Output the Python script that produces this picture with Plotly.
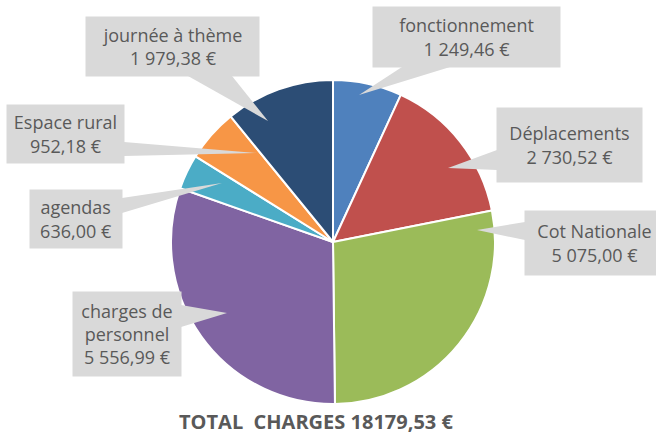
import plotly.graph_objects as go

categories = ["fonctionnement", "Déplacements", "Cot Nationale", "charges de personnel",
              "agendas", "Espace rural", "journée à thème"]
label_text = ["fonctionnement", "Déplacements", "Cot Nationale", "charges de<br>personnel",
              "agendas", "Espace rural", "journée à thème"]
values = [1249.46, 2730.52, 5075.00, 5556.99, 636.00, 952.18, 1979.38]
colors = ["#4F81BD", "#C0504D", "#9BBB59", "#8064A2", "#4BACC6", "#F79646", "#2C4D75"]

W, H = 656, 436


def fmt_eur(v):
    s = f"{v:,.2f}"
    s = s.replace(",", " ").replace(".", ",")
    return s + " €"


def px(x):
    return x / W


def py(y):
    return 1 - y / H


# callout layout (pixel boxes: x0, y0, x1, y1), wedge base and tip in pixels
boxes = [
    (373, 7, 560, 67),
    (497, 108, 642, 182),
    (525, 211, 664, 275),
    (73, 292, 181, 376),
    (30, 190, 122, 248),
    (7, 105, 124, 163),
    (86, 17, 259, 76),
]
wedges = [
    ((402, 67), (450, 67), (359, 95)),
    ((497, 150), (497, 170), (448, 168)),
    ((525, 222), (525, 240), (477, 230)),
    ((181, 305), (181, 327), (227, 313)),
    ((122, 198), (122, 213), (222, 183)),
    ((124, 142), (124, 156), (257, 153)),
    ((188, 76), (232, 76), (268, 121)),
]

fig = go.Figure(go.Pie(
    labels=categories,
    values=values,
    sort=False,
    direction="clockwise",
    rotation=0,
    marker=dict(colors=colors, line=dict(color="white", width=2)),
    textinfo="none",
    hoverinfo="label+value",
    showlegend=False,
    domain=dict(x=[px(171), px(495)], y=[py(404), py(80)]),
))

shapes = []
annotations = []
for lbl, v, b, w in zip(label_text, values, boxes, wedges):
    (a, bb, tip) = w
    path = (f"M {px(a[0])},{py(a[1])} L {px(bb[0])},{py(bb[1])} "
            f"L {px(tip[0])},{py(tip[1])} Z")
    shapes.append(dict(type="path", path=path, xref="paper", yref="paper",
                       fillcolor="#D9D9D9", line=dict(width=0), layer="above"))
    x0, y0, x1, y1 = b
    annotations.append(dict(
        text=f"{lbl}<br>{fmt_eur(v)}",
        x=px((x0 + x1) / 2), y=py((y0 + y1) / 2),
        xref="paper", yref="paper", xanchor="center", yanchor="middle",
        width=x1 - x0, height=y1 - y0, bgcolor="#D9D9D9", borderpad=0,
        showarrow=False, align="center",
        font=dict(family="Open Sans", size=18, color="#595959"),
    ))

total = sum(values)
total_str = f"{total:.2f}".replace(".", ",")
annotations.append(dict(
    text=f"<b>TOTAL  CHARGES {total_str} €</b>",
    x=px(316), y=py(421), xref="paper", yref="paper",
    xanchor="center", yanchor="middle", showarrow=False,
    font=dict(family="Open Sans", size=20, color="#595959"),
))

fig.update_layout(
    width=W, height=H,
    margin=dict(l=0, r=0, t=0, b=0),
    paper_bgcolor="white",
    plot_bgcolor="white",
    shapes=shapes,
    annotations=annotations,
)

fig.write_html("out.html")
